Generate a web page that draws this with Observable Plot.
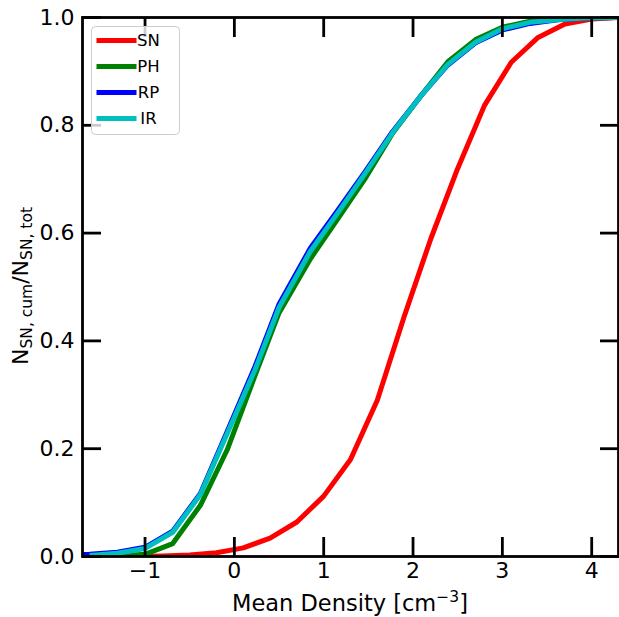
<!DOCTYPE html>
<html>
<head>
<meta charset="utf-8">
<script src="https://cdn.jsdelivr.net/npm/d3@7"></script>
<script src="https://cdn.jsdelivr.net/npm/@observablehq/plot@0.6"></script>
<style>
  html, body { margin: 0; padding: 0; background: #fff; }
  #chart { width: 619px; height: 617px; }
</style>
</head>
<body>
<div id="chart"></div>
<script>
// ---- data ----
const seriesNames = ["SN", "PH", "RP", "IR"];
const seriesColors = ["#ff0000", "#008000", "#0000ff", "#00bfbf"];

const snX = [-1.1, -0.8, -0.5, -0.2, 0.1, 0.4, 0.7, 1.0, 1.3, 1.6, 1.9, 2.2, 2.5, 2.8, 3.1, 3.4, 3.7, 4.0, 4.3];
const snY = [0.0, 0.001, 0.003, 0.007, 0.016, 0.034, 0.064, 0.112, 0.18, 0.29, 0.445, 0.59, 0.72, 0.837, 0.917, 0.963, 0.988, 0.997, 1.0];

const fbX = [-1.93, -1.62, -1.31, -1.00, -0.69, -0.38, -0.08, 0.23, 0.50, 0.85, 1.16, 1.46, 1.77, 2.08, 2.39, 2.70, 3.00, 3.31, 3.62, 3.93, 4.24, 4.55];
const phY = [null, 0.0, 0.001, 0.004, 0.024, 0.095, 0.198, 0.335, 0.452, 0.552, 0.627, 0.70, 0.785, 0.853, 0.918, 0.959, 0.982, 0.993, 0.997, 0.999, 1.0, 1.0];
const rpY = [0.003, 0.004, 0.008, 0.017, 0.047, 0.117, 0.232, 0.352, 0.468, 0.572, 0.643, 0.713, 0.788, 0.853, 0.912, 0.953, 0.977, 0.989, 0.996, 0.999, 1.0, 1.0];
const irY = [null, 0.002, 0.006, 0.015, 0.045, 0.115, 0.228, 0.346, 0.462, 0.566, 0.638, 0.71, 0.786, 0.853, 0.913, 0.954, 0.979, 0.991, 0.996, 0.999, 1.0, 1.0];

const xTicks = [-1, 0, 1, 2, 3, 4];
const yTicks = [0, 0.2, 0.4, 0.6, 0.8, 1.0];

// ---- tables ----
function table(xs, ys) {
  return xs.map((x, i) => ({x, y: ys[i]})).filter(d => d.y !== null);
}
const seriesData = [table(snX, snY), table(fbX, phY), table(fbX, rpY), table(fbX, irY)];

const FONT = "DejaVu Sans, sans-serif";
const lw = 5;

const plot = Plot.plot({
  width: 619,
  height: 617,
  marginLeft: 82,
  marginRight: 1,
  marginTop: 17,
  marginBottom: 61,
  style: {fontFamily: FONT, color: "black", background: "white", overflow: "visible"},
  x: {domain: [-1.7, 4.3]},
  y: {domain: [0, 1]},
  marks: [
    ...seriesData.map((d, i) => Plot.line(d, {x: "x", y: "y", stroke: seriesColors[i], strokeWidth: lw, clip: true, strokeLinejoin: "round", strokeLinecap: "butt"})),
    // tick labels
    Plot.axisX(xTicks, {anchor: "bottom", tickSize: 0, tickPadding: 6, fontSize: 22, label: null}),
    Plot.axisY(yTicks, {anchor: "left", tickSize: 0, tickPadding: 8, fontSize: 22, tickFormat: d3.format(".1f"), label: null}),
    // inward ticks on all sides
    Plot.axisX(xTicks, {anchor: "bottom", tickSize: -19, strokeWidth: 2.8, text: null, label: null}),
    Plot.axisX(xTicks, {anchor: "top", tickSize: -19, strokeWidth: 2.8, text: null, label: null}),
    Plot.axisY(yTicks, {anchor: "left", tickSize: -19, strokeWidth: 2.8, text: null, label: null}),
    Plot.axisY(yTicks, {anchor: "right", tickSize: -19, strokeWidth: 2.8, text: null, label: null}),
    Plot.frame({stroke: "black", strokeWidth: 2.8})
  ]
});

document.getElementById("chart").appendChild(plot);

// ---- labels and legend (layout) ----
const svg = d3.select(plot);

// x label
const xl = svg.append("text")
  .attr("x", 350).attr("y", 611)
  .attr("text-anchor", "middle")
  .attr("font-family", FONT).attr("font-size", 22.5).attr("fill", "black");
xl.append("tspan").text("Mean Density [cm");
xl.append("tspan").attr("font-size", 15.5).attr("dy", -9).text("−3");
xl.append("tspan").attr("dy", 9).text("]");

// y label
const yl = svg.append("text")
  .attr("transform", "translate(28,286) rotate(-90)")
  .attr("text-anchor", "middle")
  .attr("font-family", FONT).attr("font-size", 22).attr("fill", "black");
yl.append("tspan").text("N");
yl.append("tspan").attr("font-size", 15.5).attr("dy", 4).text("SN, cum");
yl.append("tspan").attr("dy", -4).text("/N");
yl.append("tspan").attr("font-size", 15.5).attr("dy", 4).text("SN, tot");

// legend
const lg = svg.append("g");
lg.append("rect")
  .attr("x", 91.5).attr("y", 26.5).attr("width", 88).attr("height", 108)
  .attr("rx", 4).attr("ry", 4)
  .attr("fill", "white").attr("fill-opacity", 0.8)
  .attr("stroke", "#cccccc").attr("stroke-width", 1);
seriesNames.forEach((name, i) => {
  const cy = 40.5 + i * 26;
  lg.append("line")
    .attr("x1", 96.5).attr("x2", 136.5).attr("y1", cy).attr("y2", cy)
    .attr("stroke", seriesColors[i]).attr("stroke-width", lw);
  lg.append("text")
    .attr("x", 148.5).attr("y", cy).attr("dy", "0.36em")
    .attr("font-family", FONT).attr("font-size", 16.5).attr("fill", "black")
    .text(name);
});
</script>
</body>
</html>
